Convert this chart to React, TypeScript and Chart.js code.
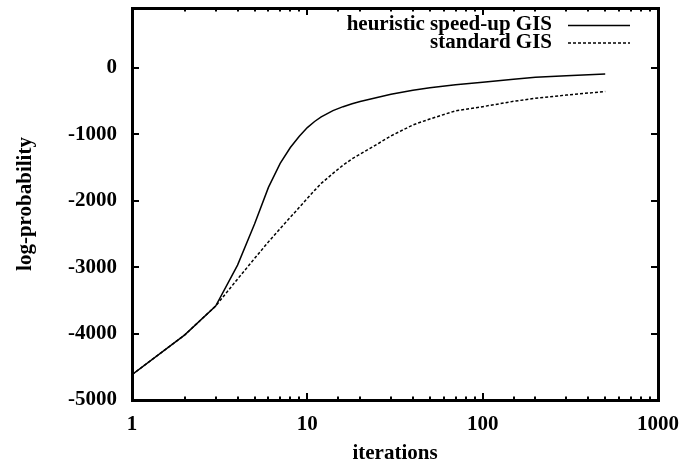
import React, { useEffect, useRef } from "react";
import { Chart, registerables } from "chart.js";

Chart.register(...registerables);

const ITERATIONS = [1, 2, 3, 4, 5, 6, 7, 8, 9, 10, 11, 12, 14, 16, 18, 20, 25, 30, 40, 50, 70, 100, 150, 200, 300, 500];
const HEURISTIC = [-4620, -4020, -3585, -2970, -2350, -1800, -1440, -1200, -1030, -900, -808, -740, -645, -585, -540, -508, -448, -398, -337, -300, -255, -217, -172, -143, -118, -95];
const STANDARD = [-4620, -4020, -3585, -3180, -2870, -2620, -2420, -2250, -2100, -1965, -1845, -1740, -1590, -1465, -1370, -1300, -1150, -1025, -860, -770, -648, -585, -505, -458, -410, -357];
const X_TICK_LABELS = [1, 10, 100, 1000];
const Y_TICKS = [-5000, -4000, -3000, -2000, -1000, 0];
const SERIES_NAMES = ["heuristic speed-up GIS", "standard GIS"];

const FONT_FAMILY = "'Liberation Serif', 'DejaVu Serif', serif";

const framePlugin = {
  id: "gnuFrame",
  afterDatasetsDraw(chart: any) {
    const { ctx, chartArea } = chart;
    const { left, right, top, bottom } = chartArea;
    const xs = chart.scales.x;
    const ys = chart.scales.y;
    ctx.save();
    ctx.strokeStyle = "#000";
    ctx.lineCap = "butt";
    ctx.lineWidth = 2;
    for (const t of xs.ticks) {
      const v = t.value;
      const px = Math.round(xs.getPixelForValue(v));
      if (px <= left + 1 || px >= right - 1) continue;
      const major = X_TICK_LABELS.includes(v);
      const len = major ? 7 : 3.5;
      ctx.beginPath();
      ctx.moveTo(px, bottom);
      ctx.lineTo(px, bottom - len);
      ctx.moveTo(px, top);
      ctx.lineTo(px, top + len);
      ctx.stroke();
    }
    for (const v of Y_TICKS) {
      const py = Math.round(ys.getPixelForValue(v));
      if (py <= top + 1 || py >= bottom - 1) continue;
      ctx.beginPath();
      ctx.moveTo(left, py);
      ctx.lineTo(left + 7, py);
      ctx.moveTo(right, py);
      ctx.lineTo(right - 7, py);
      ctx.stroke();
    }
    ctx.lineWidth = 3;
    ctx.strokeRect(left + 0.5, top + 0.5, right - left, bottom - top);

    ctx.font = `bold 21px ${FONT_FAMILY}`;
    ctx.textAlign = "right";
    ctx.textBaseline = "middle";
    ctx.fillStyle = "#000";
    const textRight = 552;
    const lineX0 = 568;
    const lineX1 = 630;
    chart.data.datasets.forEach((ds: any, i: number) => {
      const y = 25 + i * 17.5;
      ctx.fillText(ds.label, textRight, y);
      ctx.lineWidth = 1.5;
      ctx.setLineDash(ds.borderDash || []);
      ctx.beginPath();
      ctx.moveTo(lineX0, y + 0.5);
      ctx.lineTo(lineX1, y + 0.5);
      ctx.stroke();
      ctx.setLineDash([]);
    });
    ctx.restore();
  },
};

const zeroPad = (s: any) => {
  s.paddingTop = 0;
  s.paddingBottom = 0;
  s.paddingLeft = 0;
  s.paddingRight = 0;
};

export default function App() {
  const ref = useRef<HTMLCanvasElement | null>(null);
  useEffect(() => {
    if (!ref.current) return;
    const chart = new Chart(ref.current, {
      type: "line",
      data: {
        datasets: [
          {
            label: SERIES_NAMES[0],
            data: ITERATIONS.map((x, i) => ({ x, y: HEURISTIC[i] })),
            borderColor: "#000",
            borderWidth: 1.5,
            pointRadius: 0,
            tension: 0,
          },
          {
            label: SERIES_NAMES[1],
            data: ITERATIONS.map((x, i) => ({ x, y: STANDARD[i] })),
            borderColor: "#000",
            borderWidth: 1.5,
            borderDash: [3, 2],
            pointRadius: 0,
            tension: 0,
          },
        ],
      },
      options: {
        animation: false,
        responsive: false,
        maintainAspectRatio: false,
        layout: { padding: { left: 0, right: 24, top: 8, bottom: 0 } },
        plugins: {
          legend: { display: false },
          tooltip: { enabled: false },
        },
        scales: {
          x: {
            type: "logarithmic",
            min: 1,
            max: 1000,
            grid: { display: false, drawTicks: false },
            border: { display: false },
            afterFit: (s: any) => {
              s.height = 68;
              zeroPad(s);
            },
            ticks: {
              autoSkip: false,
              maxRotation: 0,
              padding: 12,
              color: "#000",
              font: { family: FONT_FAMILY, size: 21, weight: "bold" },
              callback: (v: any) => (X_TICK_LABELS.includes(Number(v)) ? String(v) : ""),
            },
            title: {
              display: true,
              text: "iterations",
              color: "#000",
              font: { family: FONT_FAMILY, size: 21, weight: "bold" },
              padding: { top: 0, bottom: 2 },
            },
          },
          y: {
            type: "linear",
            min: -5000,
            max: 900,
            grid: { display: false, drawTicks: false },
            border: { display: false },
            afterBuildTicks: (s: any) => {
              s.ticks = Y_TICKS.map((v) => ({ value: v }));
            },
            afterFit: (s: any) => {
              s.width = 132;
              zeroPad(s);
            },
            ticks: {
              padding: 15,
              color: "#000",
              font: { family: FONT_FAMILY, size: 21, weight: "bold" },
              callback: (v: any) => String(v),
            },
            title: {
              display: true,
              text: "log-probability",
              color: "#000",
              font: { family: FONT_FAMILY, size: 21, weight: "bold" },
              padding: { top: 13, bottom: 0 },
            },
          },
        },
      },
      plugins: [framePlugin],
    });
    return () => chart.destroy();
  }, []);
  return (
    <div style={{ position: "fixed", left: 0, top: 0, width: 682, height: 468, background: "#fff" }}>
      <canvas ref={ref} width={682} height={468} style={{ display: "block" }} />
    </div>
  );
}
